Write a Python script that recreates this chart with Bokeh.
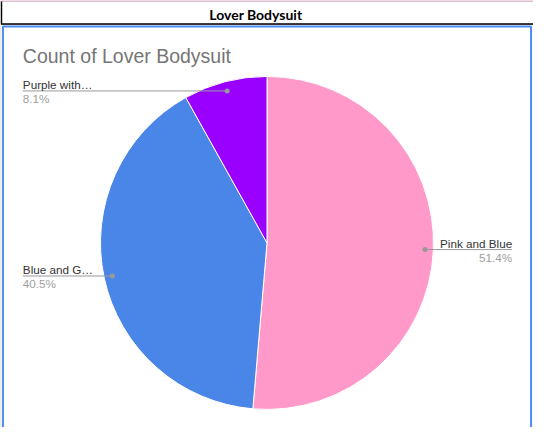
import math
from bokeh.plotting import figure
from bokeh.models import Range1d, ColumnDataSource
from bokeh.core.properties import value
from bokeh.embed import file_html
from bokeh.resources import INLINE

# ---- data ----
labels = ["Pink and Blue", "Blue and G\u2026", "Purple with\u2026"]
counts = [19, 15, 3]
colors = ["#ff99c9", "#4a86e8", "#9900ff"]
header = "Lover Bodysuit"
title = "Count of Lover Bodysuit"

W, H = 549, 443  # reference coordinate space


def Y(y):
    return H - y


p = figure(width=533, height=427, output_backend="svg", toolbar_location=None,
           x_range=Range1d(0, W), y_range=Range1d(0, H),
           x_axis_location=None, y_axis_location=None, min_border=0)
p.grid.visible = False
p.outline_line_color = None
p.background_fill_color = "white"

# outer mauve edge
p.quad(left=0, right=W, top=H, bottom=0, fill_color="#c27ba0", line_color=None)

# header box
p.quad(left=1, right=W, top=Y(1), bottom=Y(25), fill_color="white",
       line_color=None)
p.line(x=[1, 1, W], y=[Y(1), Y(24.5), Y(24.5)], line_color="black", line_width=1.5)
p.text(x=[263], y=[Y(15)], text=[header], text_font=value("Lato"),
       text_font_style="bold", text_font_size="14px", text_color="black",
       text_align="center", text_baseline="alphabetic")

# chart box
p.quad(left=0, right=W, top=Y(25.5), bottom=0, fill_color="white", line_color=None)
p.quad(left=2.5, right=546.5, top=Y(27), bottom=Y(444), fill_color="white",
       line_color="#4a8cf0", line_width=2)

p.text(x=[23], y=[Y(57.5)], text=[title], text_font=value("Liberation Sans"),
       text_font_size="19.5px", text_color="#757575", text_baseline="alphabetic")

# pie
cx, cy, r = 274.5, Y(251.5), 171.5
total = sum(counts)
starts, ends, mids = [], [], []
acc = 0
for c in counts:
    a0 = math.pi / 2 - 2 * math.pi * acc / total
    acc += c
    a1 = math.pi / 2 - 2 * math.pi * acc / total
    starts.append(a0)
    ends.append(a1)
    mids.append((a0 + a1) / 2)

src = ColumnDataSource(dict(start=starts, end=ends, color=colors))
p.wedge(x=cx, y=cy, radius=r, start_angle="start", end_angle="end",
        direction="clock", fill_color="color", line_color="white",
        line_width=1, source=src)

# labels with leader lines
for lab, c, m in zip(labels, counts, mids):
    dx = cx + 0.95 * r * math.cos(m)
    dy = cy + 0.95 * r * math.sin(m)
    pct = f"{100 * c / total:.1f}%"
    if dx < cx:
        tx, align = 23, "left"
    else:
        tx, align = 527, "right"
    p.line(x=[dx, tx], y=[dy, dy], line_color="#999999", line_width=1)
    p.scatter(x=[dx], y=[dy], size=5, fill_color="#999999", line_color=None)
    p.text(x=[tx], y=[dy + 6.5], text=[lab], text_font=value("Liberation Sans"),
           text_font_size="11.7px", text_color="#333333", text_align=align,
           text_baseline="alphabetic")
    p.text(x=[tx], y=[dy - 8], text=[pct], text_font=value("Liberation Sans"),
           text_font_size="11.7px", text_color="#9e9e9e", text_align=align,
           text_baseline="alphabetic")

open("out.html", "w").write(file_html(p, INLINE))
